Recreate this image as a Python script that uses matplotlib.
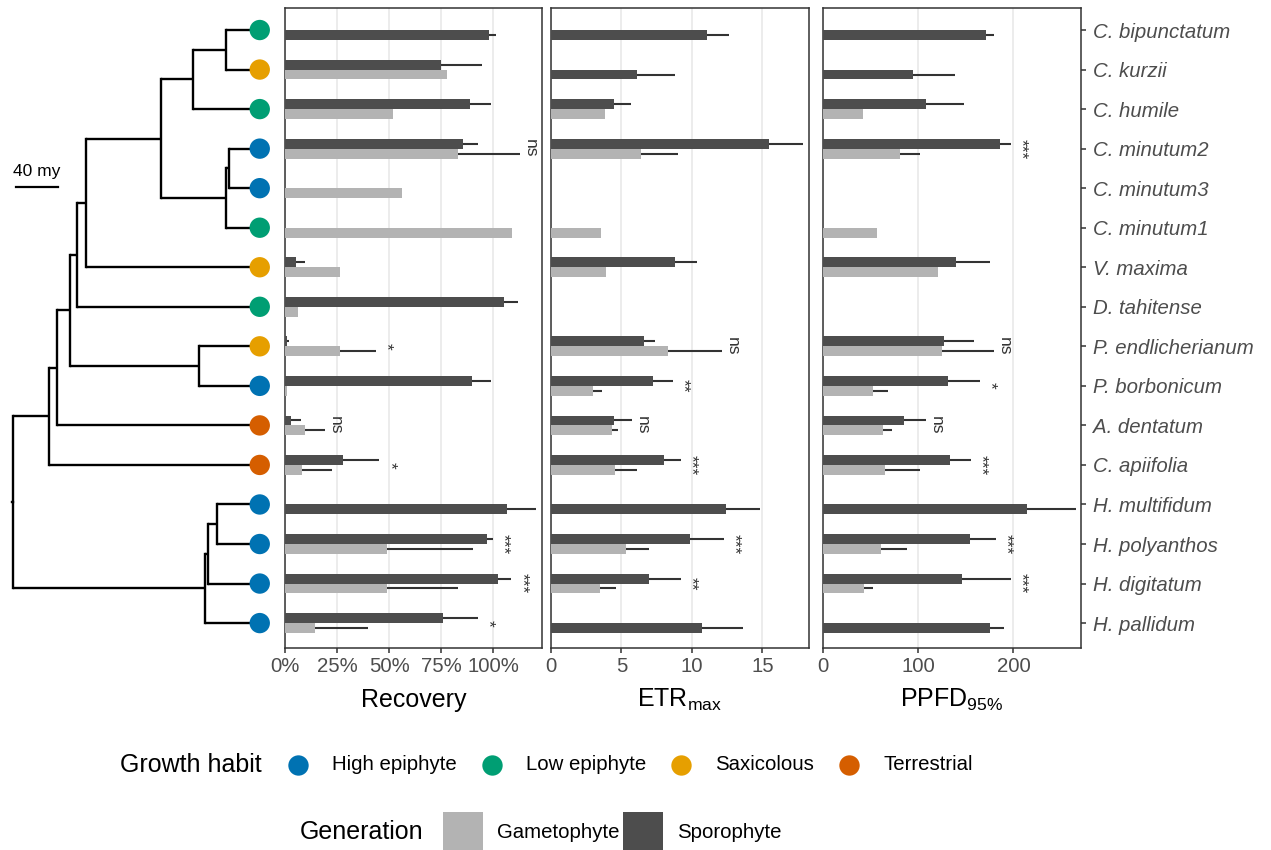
import numpy as np
import matplotlib
matplotlib.use('Agg')
import matplotlib.pyplot as plt

plt.rcParams['font.family'] = ['Liberation Sans', 'DejaVu Sans']
plt.rcParams['mathtext.fontset'] = 'custom'
plt.rcParams['mathtext.rm'] = 'Liberation Sans'
plt.rcParams['mathtext.it'] = 'Liberation Sans:italic'

nan = np.nan

species = ["C. bipunctatum", "C. kurzii", "C. humile", "C. minutum2", "C. minutum3",
           "C. minutum1", "V. maxima", "D. tahitense", "P. endlicherianum", "P. borbonicum",
           "A. dentatum", "C. apiifolia", "H. multifidum", "H. polyanthos", "H. digitatum",
           "H. pallidum"]
habit = ["Low epiphyte", "Saxicolous", "Low epiphyte", "High epiphyte", "High epiphyte",
         "Low epiphyte", "Saxicolous", "Low epiphyte", "Saxicolous", "High epiphyte",
         "Terrestrial", "Terrestrial", "High epiphyte", "High epiphyte", "High epiphyte",
         "High epiphyte"]
habit_levels = ["High epiphyte", "Low epiphyte", "Saxicolous", "Terrestrial"]
habit_colors = ["#0072B2", "#009E73", "#E69F00", "#D55E00"]

# recovery (%)
rec_spo = [98, 75, 88.8, 85.4, nan, nan, 5.1, 105.3, 0.8, 90, 2.9, 27.9, 106.7, 97, 102.4, 76]
rec_spo_se = [3.5, 19.9, 10.2, 7.4, nan, nan, 4.4, 6.7, 1.2, 8.9, 4.6, 17.5, 14.1, 2.8, 6.4, 16.8]
rec_gam = [nan, 78, 52, 83.2, 56.3, 109, 26.4, 6.2, 26.4, 0.8, 9.5, 8.2, nan, 49, 49, 14.3]
rec_gam_se = [nan, nan, nan, 29.5, nan, nan, nan, nan, 17.4, nan, 9.7, 14.2, nan, 41.2, 34, 25.4]
rec_sig = ["", "", "", "ns", "", "", "", "", "*", "", "ns", "*", "", "***", "***", "*"]

# ETRmax
etr_spo = [11.03, 6.08, 4.45, 15.48, nan, nan, 8.76, nan, 6.57, 7.21, 4.45, 7.99, 12.44, 9.89, 6.93, 10.74]
etr_spo_se = [1.57, 2.68, 1.2, 2.4, nan, nan, 1.58, nan, 0.8, 1.43, 1.3, 1.25, 2.4, 2.36, 2.31, 2.9]
etr_gam = [nan, nan, 3.82, 6.36, nan, 3.53, 3.89, nan, 8.27, 2.97, 4.31, 4.52, nan, 5.3, 3.46, nan]
etr_gam_se = [nan, nan, nan, 2.66, nan, nan, nan, nan, 3.86, 0.66, 0.47, 1.58, nan, 1.65, 1.13, nan]
etr_sig = ["", "", "", "", "", "", "", "", "ns", "**", "ns", "***", "", "***", "**", ""]

# PPFD95%
ppfd_spo = [171.4, 95, 108.7, 186.4, nan, nan, 140.2, nan, 127.6, 131.8, 85.6, 133.9, 214.8, 153.9, 146.5, 174.9]
ppfd_spo_se = [8, 43.5, 39.6, 11.2, nan, nan, 35.4, nan, 31.5, 33.3, 22.8, 21.8, 51.4, 28, 51.1, 15.7]
ppfd_gam = [nan, nan, 42.5, 80.4, nan, 56.2, 120.3, nan, 125.5, 52, 62.5, 65.6, nan, 61.4, 43.5, nan]
ppfd_gam_se = [nan, nan, nan, 21.6, nan, nan, nan, nan, 54.6, 16.8, 10.5, 36.1, nan, 26.6, 9.5, nan]
ppfd_sig = ["", "", "", "***", "", "", "", "", "ns", "*", "ns", "***", "", "***", "***", ""]

# tree: (age in my, [children]); tips are species names
tree = (235, [
    (201, [
        (193, [
            (181, [
                (174, [
                    (165.5, [
                        (94, [
                            (63.6, [(32, ["C. bipunctatum", "C. kurzii"]), "C. humile"]),
                            (32, [(29, ["C. minutum2", "C. minutum3"]), "C. minutum1"]),
                        ]),
                        "V. maxima"]),
                    "D. tahitense"]),
                (58, ["P. endlicherianum", "P. borbonicum"]),
            ]),
            "A. dentatum"]),
        "C. apiifolia"]),
    (52, [(49.3, [(40.7, ["H. multifidum", "H. polyanthos"]), "H. digitatum"]), "H. pallidum"]),
])
root_age = 235

W, H = 1271, 850
SPO = "#4D4D4D"
GAM = "#B3B3B3"
DARK = "#333333"
TXT = "#4D4D4D"
n = len(species)
rows = np.arange(n)
ylim = (15.63, -0.557)


def rect(x0, y0, x1, y1):
    return [x0 / W, 1 - y1 / H, (x1 - x0) / W, (y1 - y0) / H]


fig = plt.figure(figsize=(W / 100, H / 100), dpi=100)

# ---- tree ----
axt = fig.add_axes(rect(0, 8, 280, 648))
axt.set_xlim(-13 / 1.05, 267 / 1.05)
axt.set_ylim(*ylim)
axt.axis('off')
row_of = {s: i for i, s in enumerate(species)}
tw = 1.7


def draw(node, parent_x):
    if isinstance(node, str):
        y = row_of[node]
        axt.plot([parent_x, root_age], [y, y], color='black', lw=tw, solid_capstyle='butt')
        return y
    age, kids = node
    x = root_age - age
    ys = [draw(k, x) for k in kids]
    y = np.mean(ys)
    axt.plot([x, x], [min(ys), max(ys)], color='black', lw=tw, solid_capstyle='projecting')
    if parent_x is not None:
        axt.plot([parent_x, x], [y, y], color='black', lw=tw, solid_capstyle='butt')
    return y


ry = draw(tree, None)
axt.plot([-1.2, 0], [ry, ry], color='black', lw=tw)
cols = [habit_colors[habit_levels.index(h)] for h in habit]
axt.scatter(np.full(n, root_age), rows, s=215, c=cols, zorder=5, clip_on=False, linewidths=0)
axt.plot([3, 43], [3.97, 3.97], color='black', lw=1.6)
axt.text(23, 3.57, "40 my", ha='center', va='center', fontsize=12.5, color='black')


# ---- bar panels ----
def panel(x0, x1, spo, spo_se, gam, gam_se, sig, xmax, ticks, labels, title):
    ax = fig.add_axes(rect(x0, 8, x1, 648))
    spo, spo_se, gam, gam_se = map(np.array, (spo, spo_se, gam, gam_se))
    both = ~np.isnan(spo) & ~np.isnan(gam)
    y_spo = np.where(both, rows - 0.125, rows + 0.125)
    y_gam = rows + 0.125
    m = ~np.isnan(spo)
    ax.barh(y_spo[m], spo[m], height=0.25, color=SPO, zorder=3)
    m = ~np.isnan(gam)
    ax.barh(y_gam[m], gam[m], height=0.25, color=GAM, zorder=3)
    m = ~np.isnan(spo_se)
    ax.hlines(y_spo[m], spo[m], spo[m] + spo_se[m], color=DARK, lw=1.5, zorder=4)
    m = ~np.isnan(gam_se)
    ax.hlines(y_gam[m], gam[m], gam[m] + gam_se[m], color=DARK, lw=1.5, zorder=4)
    top = np.nanmax(np.vstack([spo, gam, spo + spo_se, gam + gam_se]), axis=0)
    for i, s in enumerate(sig):
        if s:
            ax.text(top[i] + 0.04 * xmax, rows[i], s, rotation=270, ha='center', va='center',
                    fontsize=12.5, color=DARK, zorder=5)
    ax.set_xlim(0, xmax)
    ax.set_ylim(*ylim)
    ax.set_xticks(ticks)
    ax.set_xticklabels(labels)
    ax.grid(axis='x', color='#EBEBEB', lw=1.3, zorder=0)
    ax.set_axisbelow(True)
    for sp in ax.spines.values():
        sp.set_color(DARK)
        sp.set_linewidth(1.1)
    ax.tick_params(axis='x', length=3.5, width=1.1, color=DARK, labelcolor=TXT,
                   labelsize=14.7, pad=3)
    ax.set_yticks([])
    fig.text((x0 + x1) / 2 / W, 1 - 707 / H, title, ha='center', va='baseline', fontsize=18)
    return ax


panel(285, 542, rec_spo, rec_spo_se, rec_gam, rec_gam_se, rec_sig, 123.5,
      [0, 25, 50, 75, 100], ["0%", "25%", "50%", "75%", "100%"], "Recovery")
panel(551, 809, etr_spo, etr_spo_se, etr_gam, etr_gam_se, etr_sig, 18.3,
      [0, 5, 10, 15], ["0", "5", "10", "15"], r"ETR$_{\mathrm{max}}$")
ax3 = panel(823, 1081, ppfd_spo, ppfd_spo_se, ppfd_gam, ppfd_gam_se, ppfd_sig, 271,
            [0, 100, 200], ["0", "100", "200"], r"PPFD$_{\mathrm{95\%}}$")
ax3.yaxis.tick_right()
ax3.set_yticks(rows)
ax3.set_yticklabels(species, fontstyle='italic')
ax3.tick_params(axis='y', length=3.5, width=1.1, color=DARK, labelcolor=TXT,
                labelsize=14.7, pad=5)

# ---- legends ----
axl = fig.add_axes([0, 0, 1, 1], zorder=-1)
axl.set_xlim(0, W)
axl.set_ylim(H, 0)
axl.axis('off')

axl.text(120, 765, "Growth habit", fontsize=18, ha='left', va='center')
hx = [298, 492, 681, 849]
for x, lab, c in zip(hx, habit_levels, habit_colors):
    axl.scatter([x], [765], s=215, color=c, linewidths=0)
    axl.text(x + 34, 765, lab, fontsize=14.7, ha='left', va='center')

axl.text(300, 832, "Generation", fontsize=18, ha='left', va='center')
gx = [443, 623]
for x, lab, c in zip(gx, ["Gametophyte", "Sporophyte"], [GAM, SPO]):
    axl.add_patch(plt.Rectangle((x, 812), 40, 40, color=c, lw=0))
    axl.text(x + 54, 832, lab, fontsize=14.7, ha='left', va='center')

fig.savefig("out.png", dpi=100)
